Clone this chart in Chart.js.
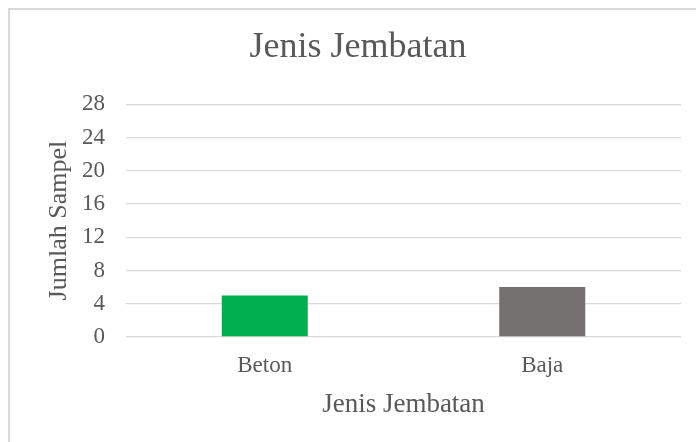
<!DOCTYPE html>
<html>
<head>
<meta charset="utf-8">
<script src="https://cdn.jsdelivr.net/npm/chart.js@4/dist/chart.umd.min.js"></script>
<style>
  body { margin: 0; background: #fff; overflow: hidden; }
  #frame { position: absolute; left: 8px; top: 8px; width: 720px; height: 460px; border-left: 2px solid #d9d9d9; border-top: 2px solid #d9d9d9; }
  #wrap { position: absolute; left: 0; top: 0; width: 696px; height: 442px; }
</style>
</head>
<body>
<div id="frame"></div>
<div id="wrap"><canvas id="myChart" width="696" height="442"></canvas></div>
<script>
// chart data
var categories = ["Beton", "Baja"];
var jumlahSampel = [5, 6];
var barColors = ["#00b050", "#767171"];
var yMax = 28;
var yStep = 4;

var textColor = "#595959";
var serif = "'Liberation Serif', 'Times New Roman', serif";

var ctx = document.getElementById("myChart").getContext("2d");
var myChart = new Chart(ctx, {
  type: "bar",
  data: {
    labels: categories,
    datasets: [
      {
        label: "Jumlah Sampel",
        data: jumlahSampel,
        backgroundColor: barColors,
        borderWidth: 0,
        barPercentage: 0.31,
        categoryPercentage: 1,
      },
    ],
  },
  options: {
    responsive: false,
    animation: false,
    layout: {
      padding: { left: 35, right: 15, top: 10, bottom: 0 },
    },
    plugins: {
      legend: { display: false },
      tooltip: { enabled: false },
      title: {
        display: true,
        text: "Jenis Jembatan",
        color: textColor,
        font: { family: serif, size: 36, weight: "normal" },
        padding: { top: 16, bottom: 35 },
      },
    },
    scales: {
      x: {
        grid: { display: false, drawTicks: false },
        border: { display: false },
        ticks: {
          color: textColor,
          font: { family: serif, size: 23 },
          padding: 15,
        },
        title: {
          display: true,
          text: "Jenis Jembatan",
          color: textColor,
          font: { family: serif, size: 27 },
          padding: { top: 0, bottom: 21 },
        },
        afterFit: function (scale) {
          scale.height = 105;
        },
      },
      y: {
        min: 0,
        max: yMax,
        grid: { color: "#d9d9d9", lineWidth: 1.3, drawTicks: false },
        border: { display: false },
        ticks: {
          stepSize: yStep,
          color: textColor,
          font: { family: serif, size: 23 },
          padding: 21,
        },
        title: {
          display: true,
          text: "Jumlah Sampel",
          color: textColor,
          font: { family: serif, size: 26 },
          padding: { top: 9, bottom: 0 },
        },
        afterFit: function (scale) {
          scale.width = 91;
        },
      },
    },
  },
});
</script>
</body>
</html>
